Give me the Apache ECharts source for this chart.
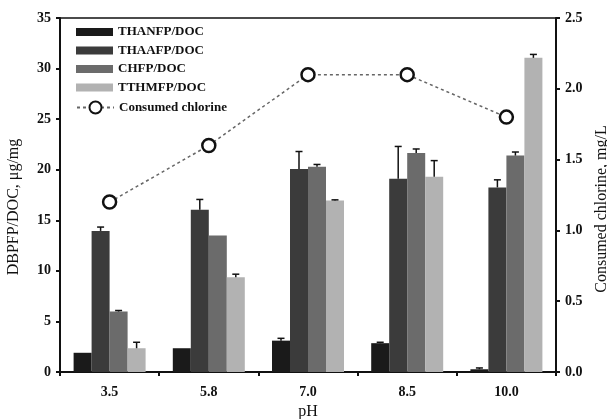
<!DOCTYPE html>
<html>
<head>
<meta charset="utf-8">
<script src="https://cdn.jsdelivr.net/npm/echarts@6/dist/echarts.min.js"></script>
<style>html,body{margin:0;padding:0;background:#fff}#c{width:607px;height:419px}</style>
</head>
<body>
<div id="c"></div>
<script>
const categories = ['3.5', '5.8', '7.0', '8.5', '10.0'];
const seriesNames = ['THANFP/DOC', 'THAAFP/DOC', 'CHFP/DOC', 'TTHMFP/DOC'];
const thanfp = [1.9, 2.35, 3.1, 2.85, 0.27];
const thaafp = [13.95, 16.05, 20.07, 19.1, 18.25];
const chfp = [5.98, 13.5, 20.3, 21.65, 21.4];
const tthmfp = [2.35, 9.38, 16.96, 19.3, 31.06];
const thanfpErrTop = [1.9, 2.35, 3.33, 2.94, 0.4];
const thaafpErrTop = [14.33, 17.06, 21.8, 22.3, 19.0];
const chfpErrTop = [6.08, 13.52, 20.52, 22.05, 21.75];
const tthmfpErrTop = [2.94, 9.67, 17.02, 20.9, 31.4];
const chlorine = [1.2, 1.6, 2.1, 2.1, 1.8];
const leftTicks = { min: 0, max: 35, interval: 5 };
const rightTicks = { min: 0, max: 2.5, interval: 0.5 };

const barColors = ['#1a1a1a', '#3b3b3b', '#6b6b6b', '#b2b2b2'];
const barValues = [thanfp, thaafp, chfp, tthmfp];
const errTops = [thanfpErrTop, thaafpErrTop, chfpErrTop, tthmfpErrTop];
const BAR_W = 18;
const SERIF = "'Liberation Serif', 'Times New Roman', serif";

const series = [];
barValues.forEach((vals, i) => {
  series.push({
    name: seriesNames[i], type: 'bar', yAxisIndex: 0,
    barWidth: BAR_W, barGap: '0%',
    itemStyle: { color: barColors[i] },
    data: vals
  });
});
barValues.forEach((vals, i) => {
  const offset = (i - 1.5) * BAR_W;
  series.push({
    type: 'custom', yAxisIndex: 0, z: 5, silent: true,
    data: vals.map((v, k) => [k, v, errTops[i][k]]),
    encode: { x: 0, y: [1, 2] },
    renderItem: function (params, api) {
      const k = api.value(0);
      const p0 = api.coord([k, api.value(1)]);
      const p1 = api.coord([k, api.value(2)]);
      const x = p0[0] + offset;
      if (Math.abs(p0[1] - p1[1]) < 0.5) return null;
      const style = { stroke: '#111', lineWidth: 1.5 };
      return {
        type: 'group',
        children: [
          { type: 'line', shape: { x1: x, y1: p0[1], x2: x, y2: p1[1] }, style: style },
          { type: 'line', shape: { x1: x - 3.5, y1: p1[1], x2: x + 3.5, y2: p1[1] }, style: style }
        ]
      };
    }
  });
});
series.push({
  name: 'Consumed chlorine', type: 'line', yAxisIndex: 1, z: 6,
  data: chlorine,
  symbol: 'circle', symbolSize: 13,
  itemStyle: { color: '#fff', borderColor: '#111', borderWidth: 2.5 },
  lineStyle: { color: '#666', width: 1.5, type: [3, 3] }
});

const chart = echarts.init(document.getElementById('c'), null, { renderer: 'canvas' });
chart.setOption({
  animation: false,
  backgroundColor: '#fff',
  grid: { left: 60, right: 51, top: 18, bottom: 47, containLabel: false, outerBoundsMode: 'none',
    show: true, borderColor: '#111', borderWidth: 1.5, backgroundColor: 'transparent' },
  legend: [
    {
      data: seriesNames.map(n => ({ name: n, icon: 'rect' })),
      orient: 'vertical', left: 71, top: 20.5,
      itemWidth: 37, itemHeight: 8, itemGap: 5.5,
      textStyle: { fontFamily: SERIF, fontWeight: 'bold', fontSize: 13, color: '#111', lineHeight: 13 }
    },
    {
      data: ['Consumed chlorine'],
      orient: 'vertical', left: 71, top: 95.5,
      itemWidth: 37, itemHeight: 15,
      textStyle: { fontFamily: SERIF, fontWeight: 'bold', fontSize: 13, color: '#111' }
    }
  ],
  xAxis: {
    type: 'category', data: categories,
    name: 'pH', nameLocation: 'middle', nameGap: 32,
    nameTextStyle: { fontFamily: SERIF, fontSize: 16, color: '#111' },
    axisLine: { lineStyle: { color: '#111', width: 2 } },
    axisTick: { show: true, length: 4, lineStyle: { color: '#111', width: 2 } },
    axisLabel: { fontFamily: SERIF, fontWeight: 'bold', fontSize: 14, color: '#111', margin: 13 }
  },
  yAxis: [
    {
      type: 'value', min: leftTicks.min, max: leftTicks.max, interval: leftTicks.interval,
      name: 'DBPFP/DOC, μg/mg', nameLocation: 'middle', nameGap: 38, nameRotate: 90,
      nameTextStyle: { fontFamily: SERIF, fontSize: 16, color: '#111', padding: [0, 24, 0, 0] },
      axisLine: { show: true, lineStyle: { color: '#111', width: 2 } },
      axisTick: { show: true, length: 4, lineStyle: { color: '#111', width: 2 } },
      axisLabel: { fontFamily: SERIF, fontWeight: 'bold', fontSize: 14, color: '#111', margin: 9 },
      splitLine: { show: false }
    },
    {
      type: 'value', min: rightTicks.min, max: rightTicks.max, interval: rightTicks.interval,
      position: 'right',
      name: 'Consumed chlorine, mg/L', nameLocation: 'middle', nameGap: 36, nameRotate: 90,
      nameTextStyle: { fontFamily: SERIF, fontSize: 16, color: '#111', padding: [0, 28, 0, 0] },
      axisLine: { show: true, lineStyle: { color: '#111', width: 2 } },
      axisTick: { show: true, length: 4, lineStyle: { color: '#111', width: 2 } },
      axisLabel: { fontFamily: SERIF, fontWeight: 'bold', fontSize: 14, color: '#111', margin: 9,
        formatter: v => v.toFixed(1) },
      splitLine: { show: false }
    }
  ],
  series: series
});
</script>
</body>
</html>
